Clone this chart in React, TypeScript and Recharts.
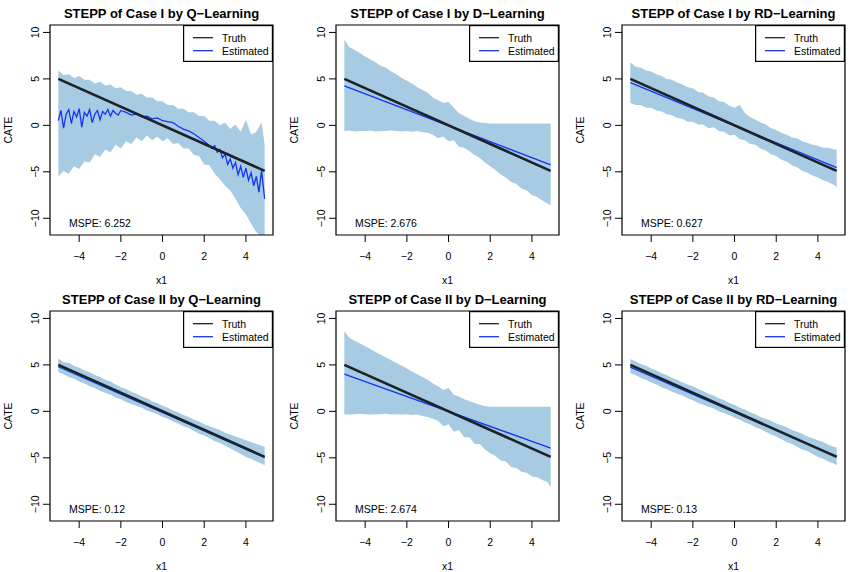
import React from "react";
import { Area, ComposedChart, Legend, Line, ReferenceArea, XAxis, YAxis } from "recharts";

// shared x grid of the confidence bands
const xGrid = [
  -5, -4.75, -4.5, -4.25, -4, -3.75, -3.5, -3.25, -3, -2.75, -2.5, -2.25, -2, -1.75, -1.5, -1.25, -1, -0.75, -0.5,
  -0.25, 0, 0.25, 0.5, 0.75, 1, 1.25, 1.5, 1.75, 2, 2.25, 2.5, 2.75, 3, 3.25, 3.5, 3.75, 4, 4.25, 4.5, 4.75, 4.9,
];

const xTicks = [-4, -2, 0, 2, 4];
const yTicks = [-10, -5, 0, 5, 10];
const xDomain: [number, number] = [-5.4, 5.3];
const yDomain: [number, number] = [-11.8, 10.8];

const titles = [
  "STEPP of Case I by Q−Learning",
  "STEPP of Case I by D−Learning",
  "STEPP of Case I by RD−Learning",
  "STEPP of Case II by Q−Learning",
  "STEPP of Case II by D−Learning",
  "STEPP of Case II by RD−Learning",
];
const mspe = ["MSPE: 6.252", "MSPE: 2.676", "MSPE: 0.627", "MSPE: 0.12", "MSPE: 2.674", "MSPE: 0.13"];

const legendNames = ["Truth", "Estimated"];

// truth line
const truthX = [-5, 4.9];
const truthY = [5, -4.9];

// band upper / lower edges per panel
const hi1 = [5.9, 5.4, 5.5, 5.1, 5.3, 4.9, 4.9, 4.5, 4.7, 4.3, 4.4, 4.0, 4.1, 3.7, 3.7, 3.3, 3.4, 3.0, 3.0, 2.6, 2.6, 2.2, 2.2, 1.8, 1.8, 1.4, 1.4, 1.0, 1.0, 0.5, 0.5, 0.0, 0.3, -0.4, 0.1, -0.7, 0.6, -1.0, -0.7, 0.3, -2.1];
const lo1 = [-5.5, -4.9, -5.2, -4.4, -4.7, -3.9, -4.0, -3.1, -3.4, -2.6, -2.9, -2.1, -2.5, -1.7, -2.0, -1.3, -1.7, -1.1, -1.6, -1.2, -1.7, -1.4, -2.0, -1.9, -2.5, -2.5, -3.2, -3.3, -4.2, -4.3, -5.2, -5.8, -6.5, -7.0, -7.9, -8.9, -9.6, -10.6, -11.5, -12.0, -12.0];

const hi2 = [9.2, 8.4, 8.1, 7.8, 7.4, 7.1, 6.8, 6.4, 6.2, 5.8, 5.5, 5.1, 4.8, 4.5, 4.1, 3.8, 3.5, 3.0, 2.7, 2.4, 2.5, 1.9, 1.3, 1.0, 0.7, 0.45, 0.3, 0.25, 0.2, 0.2, 0.2, 0.2, 0.2, 0.2, 0.2, 0.2, 0.2, 0.2, 0.2, 0.2, 0.2];
const lo2 = [-0.6, -0.55, -0.65, -0.6, -0.6, -0.55, -0.65, -0.6, -0.6, -0.55, -0.6, -0.65, -0.6, -0.7, -0.6, -0.75, -0.8, -1.0, -1.4, -1.2, -1.7, -1.6, -2.3, -2.4, -2.8, -3.2, -3.5, -4.0, -4.4, -4.8, -5.3, -5.6, -6.1, -6.3, -6.8, -7.0, -7.5, -7.7, -8.1, -8.4, -8.6];

const hi3 = [6.8, 6.3, 6.2, 5.9, 5.8, 5.5, 5.3, 5.0, 4.9, 4.6, 4.4, 4.1, 4.0, 3.6, 3.5, 3.1, 3.0, 2.6, 2.5, 2.1, 1.9, 2.2, 1.3, 0.9, 0.6, 0.3, 0.1, -0.3, -0.5, -0.8, -1.0, -1.3, -1.4, -1.7, -1.9, -2.1, -2.2, -2.4, -2.4, -2.6, -2.6];
const lo3 = [2.4, 2.2, 2.2, 1.9, 1.9, 1.6, 1.5, 1.2, 1.1, 0.8, 0.7, 0.4, 0.4, 0.1, 0.1, -0.3, -0.2, -0.6, -0.7, -1.1, -1.0, -1.5, -1.6, -2.0, -2.1, -2.5, -2.7, -3.1, -3.3, -3.7, -3.9, -4.3, -4.5, -4.9, -5.1, -5.4, -5.6, -5.9, -6.1, -6.4, -6.6];

const hi4 = [5.7, 5.3, 5.2, 4.9, 4.7, 4.4, 4.2, 3.9, 3.7, 3.4, 3.2, 2.9, 2.6, 2.4, 2.1, 1.9, 1.6, 1.4, 1.1, 0.9, 0.6, 0.4, 0.1, -0.1, -0.4, -0.6, -0.9, -1.1, -1.4, -1.6, -1.8, -2.0, -2.3, -2.5, -2.7, -2.9, -3.1, -3.3, -3.5, -3.7, -3.8];
const lo4 = [4.2, 4.0, 3.7, 3.5, 3.2, 3.0, 2.7, 2.5, 2.2, 2.0, 1.8, 1.5, 1.3, 1.0, 0.8, 0.6, 0.4, 0.1, -0.1, -0.3, -0.6, -0.8, -1.1, -1.3, -1.6, -1.8, -2.1, -2.4, -2.6, -2.9, -3.2, -3.4, -3.7, -4.0, -4.3, -4.6, -4.9, -5.1, -5.4, -5.6, -5.8];

const hi5 = [8.6, 7.9, 7.6, 7.3, 7.0, 6.7, 6.4, 6.1, 5.8, 5.5, 5.2, 4.9, 4.6, 4.3, 4.0, 3.7, 3.4, 3.0, 2.7, 2.3, 2.5, 1.8, 1.6, 1.3, 1.1, 0.9, 0.7, 0.55, 0.5, 0.5, 0.5, 0.5, 0.5, 0.5, 0.5, 0.5, 0.5, 0.5, 0.5, 0.5, 0.5];
const lo5 = [-0.3, -0.35, -0.3, -0.25, -0.3, -0.35, -0.3, -0.3, -0.25, -0.35, -0.3, -0.35, -0.3, -0.4, -0.35, -0.5, -0.6, -0.8, -1.0, -1.6, -1.4, -2.2, -2.0, -2.8, -2.8, -3.5, -3.5, -4.1, -4.5, -4.8, -5.3, -5.4, -6.0, -6.1, -6.5, -6.6, -7.0, -7.1, -7.4, -7.6, -8.2];

const hi6 = [5.6, 5.4, 5.1, 4.9, 4.6, 4.4, 4.1, 3.9, 3.6, 3.4, 3.1, 2.9, 2.7, 2.4, 2.2, 1.9, 1.7, 1.4, 1.2, 0.9, 0.7, 0.4, 0.2, -0.1, -0.3, -0.6, -0.8, -1.0, -1.3, -1.5, -1.7, -2.0, -2.2, -2.4, -2.7, -2.9, -3.1, -3.3, -3.6, -3.8, -3.9];
const lo6 = [4.1, 3.9, 3.6, 3.4, 3.1, 2.9, 2.6, 2.4, 2.1, 1.9, 1.7, 1.4, 1.2, 0.9, 0.7, 0.5, 0.3, 0.0, -0.2, -0.4, -0.7, -0.9, -1.2, -1.4, -1.7, -1.9, -2.2, -2.5, -2.7, -3.0, -3.3, -3.5, -3.8, -4.1, -4.3, -4.6, -4.9, -5.1, -5.4, -5.6, -5.8];

// Q-learning estimate for case I (jagged)
const qEstX = [
  -5, -4.875, -4.75, -4.625, -4.5, -4.375, -4.25, -4.125, -4, -3.875, -3.75, -3.625, -3.5, -3.375, -3.25, -3.125, -3,
  -2.875, -2.75, -2.625, -2.5, -2.375, -2.25, -2.125, -2,
  -1.75, -1.5, -1.25, -1, -0.75, -0.5, -0.25, 0, 0.25, 0.5, 0.75, 1, 1.25, 1.5, 1.75, 2, 2.25,
  2.375, 2.5, 2.625, 2.75, 2.875, 3, 3.125, 3.25, 3.375, 3.5, 3.625, 3.75, 3.875, 4, 4.125, 4.25, 4.375, 4.5, 4.625,
  4.75, 4.875, 4.9,
];
const qEstY = [
  0.5, 1.6, -0.3, 1.2, 1.7, 0.2, 1.5, 0.9, 1.8, -0.2, 1.4, 1.0, 1.7, 0.3, 1.2, 1.6, 0.6, 1.5, 1.2, 1.7, 1.0, 1.6, 1.3,
  1.1, 1.6,
  1.4, 1.1, 1.2, 0.9, 1.0, 0.7, 0.8, 0.5, 0.4, 0.3, -0.1, -0.4, -0.6, -0.9, -1.3, -1.7, -2.2,
  -2.5, -2.2, -2.9, -2.6, -3.5, -3.1, -4.2, -3.6, -4.6, -4.0, -5.3, -4.4, -5.6, -4.6, -5.9, -5.1, -6.5, -5.5, -7.2,
  -4.9, -7.4, -7.9,
];

// straight estimates (endpoints at x = -5 and 4.9) for the other panels
const estEndsX = [-5, 4.9];
const estEnds2 = [4.25, -4.25];
const estEnds3 = [4.6, -4.55];
const estEnds4 = [4.8, -4.95];
const estEnds5 = [4.0, -3.95];
const estEnds6 = [4.75, -4.85];

const BAND = "#a6cbe3";
const TRUTH = "#1b2228";
const EST = "#1535f0";
const FONT = "'Liberation Sans', Arial, Helvetica, sans-serif";
const legendColors = [TRUTH, EST];

const fmt = (v: number) => (v < 0 ? `−${Math.abs(v)}` : String(v));

const XTick = (p: any) => (
  <text x={p.x} y={p.y + 16} textAnchor="middle" fontSize={10.5} fontFamily={FONT} fill="#000">
    {fmt(p.payload.value)}
  </text>
);

const YTick = (p: any) => {
  const bx = p.x - 1.5;
  return (
    <text x={bx} y={p.y} transform={`rotate(-90 ${bx} ${p.y})`} textAnchor="middle" fontSize={10.5} fontFamily={FONT} fill="#000">
      {fmt(p.payload.value)}
    </text>
  );
};

const LegendBox = () => (
  <svg width={90} height={37} style={{ display: "block" }}>
    <rect x={0.6} y={0.6} width={88.8} height={35.8} fill="#fff" stroke="#000" strokeWidth={1.2} />
    {legendNames.map((n, i) => (
      <g key={n}>
        <line x1={10} x2={30} y1={12.7 + 13 * i} y2={12.7 + 13 * i} stroke={legendColors[i]} strokeWidth={1.3} />
        <text x={39} y={16.5 + 13 * i} fontSize={10.5} fontFamily={FONT} fill="#000">
          {n}
        </text>
      </g>
    ))}
  </svg>
);

function Panel({ idx, lo, hi, estX, estY }: { idx: number; lo: number[]; hi: number[]; estX: number[]; estY: number[] }) {
  const band = xGrid.map((x, i) => ({ x, range: [lo[i], hi[i]] }));
  const truth = truthX.map((x, i) => ({ x, y: truthY[i] }));
  const est = estX.map((x, i) => ({ x, y: estY[i] }));
  const frameLabel = (p: any) => {
    const vb = p.viewBox;
    return (
      <g>
        <text x={vb.x + vb.width / 2} y={vb.y - 7.5} textAnchor="middle" fontSize={13} fontWeight="bold" fontFamily={FONT} fill="#000">
          {titles[idx]}
        </text>
        <text x={vb.x + 19} y={vb.y + vb.height - 8.5} fontSize={10.5} fontFamily={FONT} fill="#000">
          {mspe[idx]}
        </text>
      </g>
    );
  };
  return (
    <ComposedChart width={286} height={286} margin={{ top: 25, right: 13, bottom: 0, left: 0 }}>
      <XAxis
        type="number"
        dataKey="x"
        domain={xDomain}
        ticks={xTicks}
        allowDataOverflow
        height={51}
        axisLine={false}
        tickSize={7}
        tickLine={{ stroke: "#000" }}
        tick={<XTick />}
        label={(p: any) => (
          <text x={p.viewBox.x + p.viewBox.width / 2} y={p.viewBox.y + 49} textAnchor="middle" fontSize={10.5} fontFamily={FONT} fill="#000">
            x1
          </text>
        )}
      />
      <YAxis
        type="number"
        domain={yDomain}
        ticks={yTicks}
        allowDataOverflow
        width={50}
        axisLine={false}
        tickSize={7}
        tickLine={{ stroke: "#000" }}
        tick={<YTick />}
        label={(p: any) => {
          const cy = p.viewBox.y + p.viewBox.height / 2;
          return (
            <text x={12} y={cy} transform={`rotate(-90 12 ${cy})`} textAnchor="middle" fontSize={10.5} fontFamily={FONT} fill="#000">
              CATE
            </text>
          );
        }}
      />
      <Area data={band} dataKey="range" type="linear" stroke="none" fill={BAND} fillOpacity={1} isAnimationActive={false} legendType="none" />
      <Line data={est} dataKey="y" name="Estimated" type="linear" stroke={EST} strokeWidth={1.3} dot={false} isAnimationActive={false} />
      <Line data={truth} dataKey="y" name="Truth" type="linear" stroke={TRUTH} strokeWidth={2.6} dot={false} isAnimationActive={false} />
      <ReferenceArea x1={xDomain[0]} x2={xDomain[1]} y1={yDomain[0]} y2={yDomain[1]} fill="none" stroke="#000" strokeWidth={1.2} fillOpacity={0} ifOverflow="visible" label={frameLabel} />
      <Legend layout="vertical" align="center" verticalAlign="middle" wrapperStyle={{ top: 25, left: 183, width: 90, height: 37 }} content={<LegendBox />} />
    </ComposedChart>
  );
}

export default function App() {
  const panels = [
    { lo: lo1, hi: hi1, estX: qEstX, estY: qEstY },
    { lo: lo2, hi: hi2, estX: estEndsX, estY: estEnds2 },
    { lo: lo3, hi: hi3, estX: estEndsX, estY: estEnds3 },
    { lo: lo4, hi: hi4, estX: estEndsX, estY: estEnds4 },
    { lo: lo5, hi: hi5, estX: estEndsX, estY: estEnds5 },
    { lo: lo6, hi: hi6, estX: estEndsX, estY: estEnds6 },
  ];
  return (
    <div
      style={{
        position: "absolute",
        left: 0,
        top: 0,
        width: 858,
        height: 572,
        background: "#fff",
        display: "grid",
        gridTemplateColumns: "286px 286px 286px",
        gridTemplateRows: "286px 286px",
        fontFamily: FONT,
      }}
    >
      {panels.map((p, i) => (
        <Panel key={i} idx={i} {...p} />
      ))}
    </div>
  );
}
